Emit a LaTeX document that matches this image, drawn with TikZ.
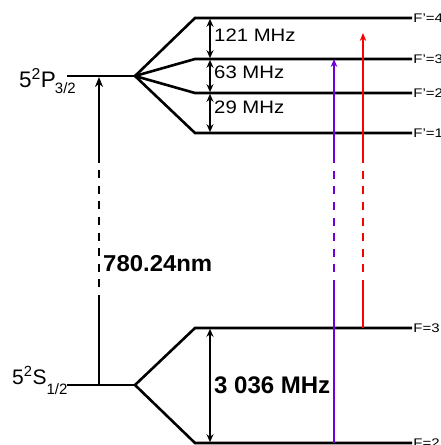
\documentclass[tikz,border=0pt]{standalone}
\usepackage{fontspec}
\setmainfont{Liberation Sans}
\usetikzlibrary{arrows.meta}
\definecolor{violetline}{RGB}{110,0,220}
\definecolor{redline}{RGB}{255,0,0}
\tikzset{
  level/.style={line width=2.8pt, line cap=butt},
  fan/.style={line width=2.6pt, line join=miter},
  gap/.style={line width=1.8pt, {Stealth[length=8pt,width=7pt]}-{Stealth[length=8pt,width=7pt]}, shorten <=0.8pt, shorten >=0.8pt},
  mainarrow/.style={line width=2.6pt},
  dashpart/.style={dash pattern=on 8pt off 7.6pt},
  uparrow/.style={-{Stealth[length=10pt,width=8pt]}},
  beamhead/.style={-{Stealth[length=8pt,width=6.5pt]}},
  beam/.style={line width=2.2pt},
  flabel/.style={anchor=west, inner sep=1pt, xscale=1.2, transform shape, font=\fontsize{12.5}{13}\selectfont},
  mhz/.style={anchor=west, inner sep=0pt, xscale=1.13, transform shape, font=\fontsize{18}{20}\selectfont},
  term/.style={anchor=base west, inner sep=0pt},
}
\begin{document}
\begin{tikzpicture}[x=1pt,y=-1pt]
\useasboundingbox (0,0) rectangle (440,445);
\clip (0,0) rectangle (440,445);
% excited state
\coordinate (P0) at (67,76);
\coordinate (Pv) at (135,76);
\coordinate (F4a) at (195,18);  \coordinate (F4b) at (412,18);
\coordinate (F3a) at (195,59);  \coordinate (F3b) at (412,59);
\coordinate (F2a) at (195,93);  \coordinate (F2b) at (412,93);
\coordinate (F1a) at (195,133); \coordinate (F1b) at (412,133);
\draw[level] (P0) -- (Pv);
\draw[fan] (Pv) -- (F4a) -- (F4b);
\draw[fan] (Pv) -- (F3a) -- (F3b);
\draw[fan] (Pv) -- (F2a) -- (F2b);
\draw[fan] (Pv) -- (F1a) -- (F1b);
\node[flabel] (l4) at (F4b) {F’=4};
\node[flabel] (l3) at (F3b) {F’=3};
\node[flabel] (l2) at (F2b) {F’=2};
\node[flabel] (l1) at (F1b) {F’=1};
% hyperfine gaps
\coordinate (g4) at (210,18);
\coordinate (g3) at (210,59);
\coordinate (g2) at (210,93);
\coordinate (g1) at (210,133);
\draw[gap] (g4) -- (g3);
\draw[gap] (g3) -- (g2);
\draw[gap] (g2) -- (g1);
\node[mhz] (m121) at (214,35) {121 MHz};
\node[mhz] (m63) at (214,72) {63 MHz};
\node[mhz] (m29) at (214,107) {29 MHz};
\node[term, font=\fontsize{22.5}{25}\selectfont] (Pterm) at (19,87) {5\textsuperscript{2}P\kern-1pt\raisebox{-6pt}{\fontsize{15}{16}\selectfont 3/2}};
% ground state
\coordinate (S0) at (67,385);
\coordinate (Sv) at (135,385);
\coordinate (G3a) at (195,328); \coordinate (G3b) at (412,328);
\coordinate (G2a) at (195,443); \coordinate (G2b) at (412,443);
\draw[level] (S0) -- (Sv);
\draw[fan] (Sv) -- (G3a) -- (G3b);
\draw[fan] (Sv) -- (G2a) -- (G2b);
\node[flabel] (g3l) at (G3b) {F=3};
\node[flabel] (g2l) at (G2b) {F=2};
\coordinate (h3) at (210,328);
\coordinate (h2) at (210,443);
\draw[gap] (h3) -- (h2);
\node[anchor=west, inner sep=0pt, font=\fontsize{24}{26}\selectfont\bfseries] (m3036) at (214,385) {3 036 MHz};
\node[term, font=\fontsize{21}{24}\selectfont] (Sterm) at (12,384) {5\textsuperscript{2}S\raisebox{-10pt}{\fontsize{15}{16}\selectfont 1/2}};
% main D2 transition
\coordinate (a0) at (99,385);
\coordinate (a1) at (99,303);
\coordinate (a2) at (99,158);
\coordinate (a3) at (99,77);
\draw[mainarrow] (a0) -- (a1);
\draw[mainarrow, dashpart] (a1) -- (a2);
\draw[mainarrow, uparrow] (a2) -- (a3);
\node[anchor=west, inner sep=0pt, xscale=1.04, transform shape, font=\fontsize{23}{25}\selectfont\bfseries] (wl) at (103,264) {780.24nm};
% violet beam F=2 -> F'=3
\coordinate (v0) at (334,443);
\coordinate (v1) at (334,288);
\coordinate (v2) at (334,158);
\coordinate (v3) at (334,59);
\draw[beam, violetline] (v0) -- (v1);
\draw[beam, violetline, dashpart] (v1) -- (v2);
\draw[beam, violetline, beamhead] (v2) -- (v3);
% red beam F=3 -> F'=4
\coordinate (r0) at (363,328);
\coordinate (r1) at (363,288);
\coordinate (r2) at (363,158);
\coordinate (r3) at (363,33);
\draw[beam, redline] (r0) -- (r1);
\draw[beam, redline, dashpart] (r1) -- (r2);
\draw[beam, redline, beamhead] (r2) -- (r3);
\end{tikzpicture}
\end{document}
